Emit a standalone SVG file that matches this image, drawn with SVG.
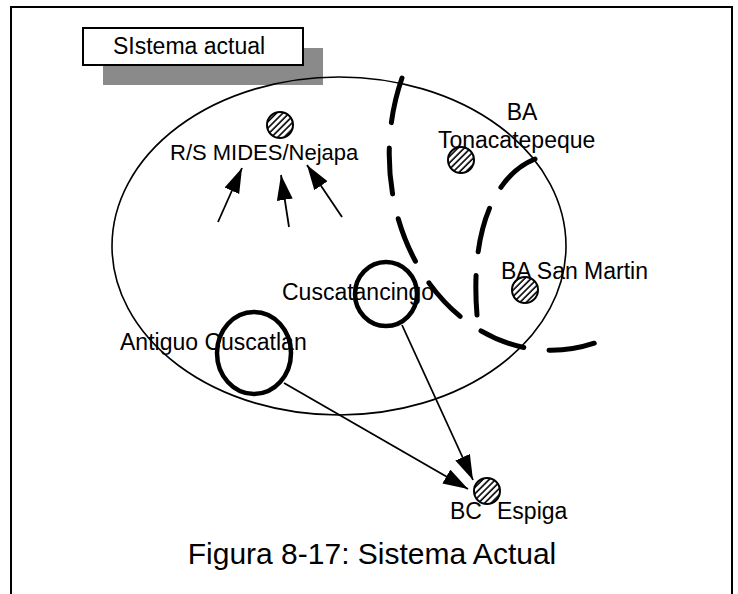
<svg xmlns="http://www.w3.org/2000/svg" width="738" height="594" viewBox="0 0 738 594">
<style>
text{font-family:"Liberation Sans",Arial,sans-serif;fill:#000}
.lbl{font-size:23px}
.site{fill:url(#hatch);stroke:#000;stroke-width:2}
.town{fill:none;stroke:#000;stroke-width:4.5}
.dash{fill:none;stroke:#000;stroke-width:5;stroke-dasharray:46 25.4;stroke-linecap:round}
.dash2{fill:none;stroke:#000;stroke-width:5;stroke-dasharray:45 24;stroke-linecap:round}
.arr{fill:none;stroke:#000;stroke-width:1.8}
</style>
<defs>
<pattern id="hatch" width="4.5" height="4.5" patternUnits="userSpaceOnUse" patternTransform="rotate(45)">
<rect width="4.5" height="4.5" fill="#fff"/>
<line x1="1" y1="0" x2="1" y2="4.5" stroke="#000" stroke-width="1.6"/>
</pattern>
<marker id="ah" markerUnits="userSpaceOnUse" markerWidth="26" markerHeight="18" refX="25" refY="8" orient="auto">
<path d="M0,0 L25,8 L0,16 z" fill="#000"/>
</marker>
</defs>
<rect width="738" height="594" fill="#fff"/>
<path d="M11,594 L11,7 L732,7 L732,594" fill="none" stroke="#000" stroke-width="2"/>

<g id="title">
<rect x="103" y="48" width="220" height="37" fill="#8a8a8a"/>
<rect x="83" y="28" width="220" height="37" fill="#fff" stroke="#000" stroke-width="2"/>
<text x="113" y="54" style="font-size:23px">SIstema actual</text>
</g>

<g id="area">
<ellipse cx="339" cy="246" rx="227" ry="169" fill="none" stroke="#000" stroke-width="1.6"/>
</g>

<g id="boundary">
<path class="dash" d="M402,78 A162,196 0 0 0 595,343"/>
<path class="dash2" d="M535,159 C495,175 470,230 477,315"/>
</g>

<g id="connectors">
<line class="arr" x1="218" y1="222" x2="242" y2="168" marker-end="url(#ah)"/>
<line class="arr" x1="289" y1="227" x2="281" y2="175" marker-end="url(#ah)"/>
<line class="arr" x1="342" y1="217" x2="307" y2="165" marker-end="url(#ah)"/>
<line class="arr" x1="284" y1="383" x2="468" y2="489" marker-end="url(#ah)"/>
<line class="arr" x1="402" y1="325" x2="473" y2="480" marker-end="url(#ah)"/>
</g>

<g id="rs-mides">
<circle class="site" cx="280" cy="125" r="13"/>
<text class="lbl" x="170" y="160" style="font-size:22px">R/S MIDES/Nejapa</text>
</g>

<g id="ba-tonacatepeque">
<circle class="site" cx="461" cy="160" r="13"/>
<text class="lbl" x="522" y="120" text-anchor="middle">BA</text>
<text class="lbl" x="438" y="148">Tonacatepeque</text>
</g>

<g id="ba-san-martin">
<circle class="site" cx="525" cy="290" r="13"/>
<text class="lbl" x="501" y="279">BA San Martin</text>
</g>

<g id="cuscatancingo">
<ellipse class="town" cx="386" cy="294" rx="31" ry="32"/>
<text class="lbl" x="282" y="300">Cuscatancingo</text>
</g>

<g id="antiguo-cuscatlan">
<ellipse class="town" cx="254" cy="353" rx="37" ry="41"/>
<text class="lbl" x="120" y="350">Antiguo Cuscatlan</text>
</g>

<g id="bc-espiga">
<circle class="site" cx="487" cy="491" r="13"/>
<text class="lbl" x="450" y="519">BC<tspan x="497">Espiga</tspan></text>
</g>

<text x="372" y="564" text-anchor="middle" style="font-size:30px">Figura 8-17: Sistema Actual</text>
</svg>
